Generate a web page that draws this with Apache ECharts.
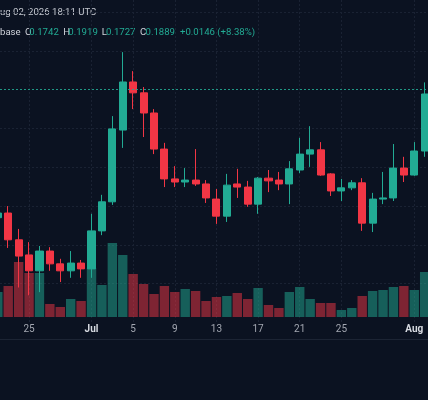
<!DOCTYPE html>
<html><head><meta charset="utf-8">
<script src="https://cdn.jsdelivr.net/npm/echarts@6/dist/echarts.min.js"></script>
<style>html,body{margin:0;padding:0;background:#0b1221;}#c{width:428px;height:400px;}</style>
</head><body><div id="c"></div>
<script>
const dates = ['2026-06-22','2026-06-23','2026-06-24','2026-06-25','2026-06-26','2026-06-27','2026-06-28','2026-06-29','2026-06-30',
 '2026-07-01','2026-07-02','2026-07-03','2026-07-04','2026-07-05','2026-07-06','2026-07-07','2026-07-08','2026-07-09','2026-07-10',
 '2026-07-11','2026-07-12','2026-07-13','2026-07-14','2026-07-15','2026-07-16','2026-07-17','2026-07-18','2026-07-19','2026-07-20',
 '2026-07-21','2026-07-22','2026-07-23','2026-07-24','2026-07-25','2026-07-26','2026-07-27','2026-07-28','2026-07-29','2026-07-30',
 '2026-07-31','2026-08-01','2026-08-02'];
const opens = [0.1570,0.1582,0.1513,0.1474,0.1433,0.1484,0.1451,0.1433,0.1453,
 0.1438,0.1536,0.1611,0.1796,0.1920,0.1892,0.1840,0.1747,0.1670,0.1662,
 0.1667,0.1657,0.1618,0.1574,0.1657,0.1649,0.1605,0.1672,0.1667,0.1657,
 0.1693,0.1734,0.1745,0.1683,0.1639,0.1647,0.1660,0.1556,0.1618,0.1621,
 0.1698,0.1680,0.1742];
const closes = [0.1582,0.1513,0.1471,0.1433,0.1484,0.1451,0.1433,0.1453,0.1438,
 0.1536,0.1611,0.1799,0.1920,0.1892,0.1840,0.1747,0.1670,0.1662,0.1667,
 0.1657,0.1621,0.1574,0.1654,0.1649,0.1605,0.1672,0.1665,0.1657,0.1696,
 0.1734,0.1745,0.1680,0.1639,0.1647,0.1660,0.1556,0.1618,0.1621,0.1698,
 0.1680,0.1742,0.1889];
const lows = [0.1556,0.1492,0.1390,0.1370,0.1378,0.1433,0.1404,0.1415,0.1415,
 0.1415,0.1525,0.1603,0.1750,0.1850,0.1778,0.1734,0.1649,0.1649,0.1649,
 0.1652,0.1608,0.1554,0.1559,0.1621,0.1598,0.1580,0.1636,0.1641,0.1605,
 0.1685,0.1701,0.1678,0.1626,0.1613,0.1641,0.1536,0.1533,0.1605,0.1613,
 0.1662,0.1678,0.1727];
const highs = [0.1595,0.1600,0.1541,0.1507,0.1497,0.1494,0.1464,0.1484,0.1461,
 0.1580,0.1629,0.1832,0.1997,0.1948,0.1907,0.1850,0.1763,0.1703,0.1698,
 0.1747,0.1667,0.1644,0.1683,0.1696,0.1665,0.1675,0.1693,0.1688,0.1716,
 0.1776,0.1806,0.1765,0.1685,0.1670,0.1667,0.1672,0.1634,0.1688,0.1760,
 0.1727,0.1765,0.1919];
const volumes = [25,31,55,44,44,13,10,18,16,
 49,32,74,62,43,33,23,31,25,28,
 26,16,20,21,24,18,29,12,9,25,
 30,18,14,14,7,9,21,26,27,30,
 31,27,45];
const tickDates = ['2026-06-25','2026-07-01','2026-07-05','2026-07-09','2026-07-13','2026-07-17','2026-07-21','2026-07-25','2026-08-01'];
const tickLabels = ['25','Jul','5','9','13','17','21','25','Aug'];
const monthLabels = ['Jul','Aug'];
const headerDate = 'Aug 02, 2026 18:11 UTC';
const exchange = 'Coinbase';
const visibleExchangePart = 'base';
const lastClose = 0.1889;
const changeText = '+0.0146 (+8.38%)';

const UP = '#22ab94', DOWN = '#f23645';
const FONT = 'Roboto, "Noto Sans", sans-serif';
const BG = '#0b1221';
const GRIDC = '#1a2233';

const base = Date.UTC(2026, 6, 1);
const dayOf = s => (Date.parse(s + 'T00:00:00Z') - base) / 86400000;
const days = dates.map(dayOf);
const tickDays = tickDates.map(dayOf);
const labelOf = {};
tickDays.forEach((d, i) => labelOf[d] = tickLabels[i]);

const candleData = days.map((d, i) => [d, opens[i], closes[i], lows[i], highs[i]]);
const volData = days.map((d, i) => ({
  value: [d, volumes[i]],
  itemStyle: { color: closes[i] >= opens[i] ? 'rgba(34,171,148,0.5)' : 'rgba(242,54,69,0.5)' }
}));

const ctx = document.createElement('canvas').getContext('2d');
function tw(t, size, weight) { ctx.font = (weight || 'normal') + ' ' + size + 'px ' + FONT; return ctx.measureText(t).width; }

const FS = 9.6;
const hidden = exchange.slice(0, exchange.length - visibleExchangePart.length);
const X0 = -8.79, X1 = 32.32;

const chart = echarts.init(document.getElementById('c'), null, { renderer: 'canvas' });
const xCommon = { type: 'value', min: X0, max: X1 };
chart.setOption({
  animation: false,
  backgroundColor: BG,
  grid: [
    { left: 0, right: 0, top: 0, bottom: 77.6 },
    { left: 0, right: 0, top: 217, bottom: 83 }
  ],
  xAxis: [
    Object.assign({}, xCommon, {
      gridIndex: 0,
      axisLine: { show: false },
      axisLabel: { show: false },
      axisTick: { show: false, customValues: tickDays },
      splitLine: { show: true, lineStyle: { color: GRIDC, type: [2, 2], width: 1 } }
    }),
    Object.assign({}, xCommon, {
      gridIndex: 1,
      axisLine: { show: false },
      axisTick: { show: false, customValues: tickDays },
      splitLine: { show: false },
      axisLabel: {
        show: true, customValues: tickDays, margin: 7,
        fontFamily: FONT, fontSize: 10, color: '#a3a7b1',
        formatter: v => {
          const t = labelOf[v] || '';
          return monthLabels.indexOf(t) >= 0 ? '{m|' + t + '}' : t;
        },
        rich: { m: { fontFamily: FONT, fontSize: 10, fontWeight: 'bold', color: '#d6d9e0' } }
      }
    })
  ],
  yAxis: [
    { type: 'value', gridIndex: 0, min: 0.13, max: 0.21314, interval: 0.01,
      axisLine: { show: false }, axisTick: { show: false }, axisLabel: { show: false },
      splitLine: { show: true, showMinLine: false, showMaxLine: false, lineStyle: { color: GRIDC, type: [2, 2], width: 1 } } },
    { type: 'value', gridIndex: 1, min: 0, max: 100, show: false, splitLine: { show: false } }
  ],
  series: [
    { type: 'bar', xAxisIndex: 1, yAxisIndex: 1, data: volData, barWidth: 9.4, z: 1, silent: true },
    { type: 'candlestick', xAxisIndex: 0, yAxisIndex: 0, data: candleData, barWidth: 7.6, z: 3, silent: true,
      encode: { x: 0, y: [1, 2, 3, 4] },
      itemStyle: { color: UP, color0: DOWN, borderColor: UP, borderColor0: DOWN, borderWidth: 1 },
      markLine: { silent: true, symbol: ['none', 'none'], label: { show: false },
        lineStyle: { color: UP, type: [2, 2], width: 1, opacity: 0.85 },
        data: [{ yAxis: lastClose }] } }
  ],
  graphic: [
    { type: 'line', shape: { x1: 0, y1: 339.5, x2: 428, y2: 339.5 }, style: { stroke: '#1c2434', lineWidth: 1 }, silent: true },
    { type: 'text', x: -tw(headerDate[0], FS), y: 12.5, style: { text: headerDate, font: FS + 'px ' + FONT, fill: '#c4c8d0', textVerticalAlign: 'middle' } },
    { type: 'text', x: -tw(hidden, FS), y: 33, style: { text: exchange, font: FS + 'px ' + FONT, fill: '#d1d4dc', textVerticalAlign: 'middle' } },
    { type: 'text', x: 25, y: 33, style: { text: 'O', font: FS + 'px ' + FONT, fill: '#d1d4dc', textVerticalAlign: 'middle' } },
    { type: 'text', x: 29.3, y: 33, style: { text: opens[opens.length-1].toFixed(4), font: FS + 'px ' + FONT, fill: UP, textVerticalAlign: 'middle' } },
    { type: 'text', x: 63.3, y: 33, style: { text: 'H', font: FS + 'px ' + FONT, fill: '#d1d4dc', textVerticalAlign: 'middle' } },
    { type: 'text', x: 68.3, y: 33, style: { text: highs[highs.length-1].toFixed(4), font: FS + 'px ' + FONT, fill: UP, textVerticalAlign: 'middle' } },
    { type: 'text', x: 101.7, y: 33, style: { text: 'L', font: FS + 'px ' + FONT, fill: '#d1d4dc', textVerticalAlign: 'middle' } },
    { type: 'text', x: 106, y: 33, style: { text: lows[lows.length-1].toFixed(4), font: FS + 'px ' + FONT, fill: UP, textVerticalAlign: 'middle' } },
    { type: 'text', x: 140, y: 33, style: { text: 'C', font: FS + 'px ' + FONT, fill: '#d1d4dc', textVerticalAlign: 'middle' } },
    { type: 'text', x: 145.5, y: 33, style: { text: closes[closes.length-1].toFixed(4), font: FS + 'px ' + FONT, fill: UP, textVerticalAlign: 'middle' } },
    { type: 'text', x: 180, y: 33, style: { text: changeText, font: FS + 'px ' + FONT, fill: UP, textVerticalAlign: 'middle' } }
  ]
});
</script></body></html>
